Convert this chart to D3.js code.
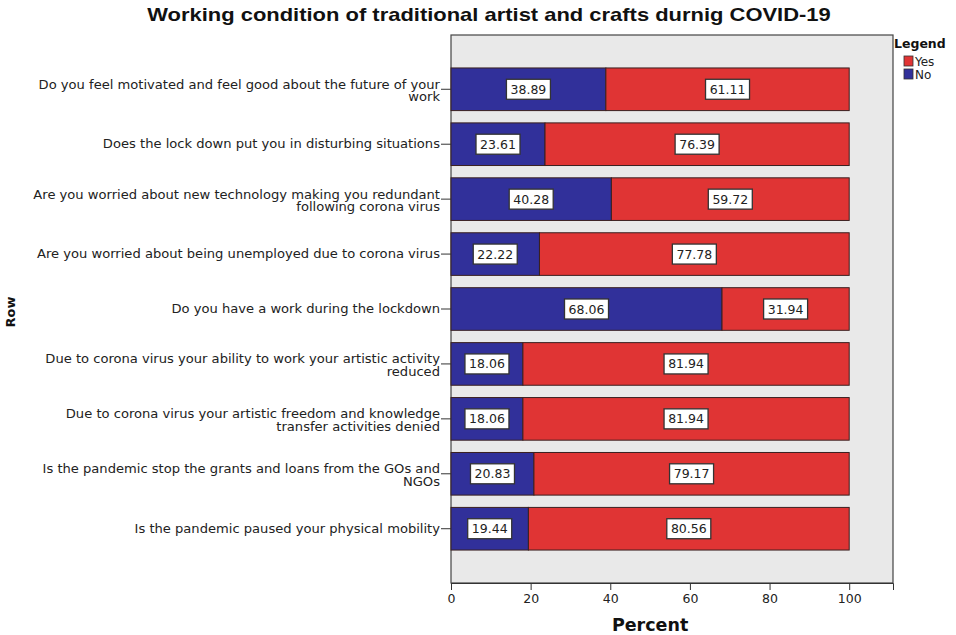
<!DOCTYPE html>
<html>
<head>
<meta charset="utf-8">
<script src="https://cdn.jsdelivr.net/npm/d3@7"></script>
<style>
  html, body { margin: 0; padding: 0; background: #fff; }
  svg { display: block; font-family: "DejaVu Sans", Verdana, sans-serif; }
</style>
</head>
<body>
<svg id="chart" width="956" height="635"></svg>
<script>
// Survey questions, top to bottom (each entry is the list of label lines)
const questions = [
  ["Do you feel motivated and feel good about the future of your", "work"],
  ["Does the lock down put you in disturbing situations"],
  ["Are you worried about new technology making you redundant", "following corona virus"],
  ["Are you worried about being unemployed due to corona virus"],
  ["Do you have a work during the lockdown"],
  ["Due to corona virus your ability to work your artistic activity", "reduced"],
  ["Due to corona virus your artistic freedom and knowledge", "transfer activities denied"],
  ["Is the pandemic stop the grants and loans from the GOs and", "NGOs"],
  ["Is the pandemic paused your physical mobility"]
];
const noValues  = [38.89, 23.61, 40.28, 22.22, 68.06, 18.06, 18.06, 20.83, 19.44];
const yesValues = [61.11, 76.39, 59.72, 77.78, 31.94, 81.94, 81.94, 79.17, 80.56];
const xTicks = [0, 20, 40, 60, 80, 100];
const seriesNames = ["No", "Yes"];
const legendOrder = ["Yes", "No"];

const colors = { No: "#31309a", Yes: "#e03434" };

const svg = d3.select("#chart");
const plot = { left: 451, right: 893, top: 35, bottom: 583 };

const x = d3.scaleLinear().domain([0, 111]).range([plot.left, plot.right]);
const y = d3.scaleBand()
  .domain(d3.range(questions.length))
  .range([plot.top, plot.bottom])
  .paddingInner(0.224)
  .paddingOuter(0.6);

// Title
svg.append("text")
  .attr("transform", "translate(489,21) scale(1.22,1)")
  .attr("text-anchor", "middle")
  .attr("font-family", "'Liberation Sans', Arial, sans-serif")
  .attr("font-size", 18).attr("font-weight", "bold")
  .attr("fill", "#111")
  .text("Working condition of traditional artist and crafts durnig COVID-19");

// Plot background
svg.append("rect")
  .attr("x", plot.left).attr("y", plot.top)
  .attr("width", plot.right - plot.left).attr("height", plot.bottom - plot.top)
  .attr("fill", "#e9e9e9").attr("stroke", "#444").attr("stroke-width", 1.2);

// Stacked rows
const rows = questions.map((q, i) => ({ i, No: noValues[i], Yes: yesValues[i] }));
const stacked = d3.stack().keys(seriesNames)(rows);

const layers = svg.append("g").selectAll("g")
  .data(stacked).join("g")
  .attr("fill", d => colors[d.key]);

layers.selectAll("rect")
  .data(d => d.map(v => ({ key: d.key, v })))
  .join("rect")
  .attr("x", d => x(d.v[0]))
  .attr("y", d => y(d.v.data.i))
  .attr("width", d => x(d.v[1]) - x(d.v[0]))
  .attr("height", y.bandwidth())
  .attr("stroke", "#3a2020").attr("stroke-width", 1);

// Value labels in white boxes
const labels = svg.append("g").selectAll("g")
  .data(stacked.flatMap(s => s.map(v => ({ key: s.key, v }))))
  .join("g")
  .attr("transform", d => `translate(${(x(d.v[0]) + x(d.v[1])) / 2},${y(d.v.data.i) + y.bandwidth() / 2})`);

labels.append("rect")
  .attr("x", -22).attr("y", -10).attr("width", 44).attr("height", 20)
  .attr("fill", "#fff").attr("stroke", "#333").attr("stroke-width", 1.3);

labels.append("text")
  .attr("text-anchor", "middle").attr("dy", "0.36em")
  .attr("font-size", 12.5).attr("fill", "#222")
  .text(d => d.v.data[d.key].toFixed(2));

// Category axis
const yAxis = d3.axisLeft(y).tickSize(10).tickFormat("");
const yg = svg.append("g").attr("transform", `translate(${plot.left},0)`).call(yAxis);
yg.select(".domain").remove();
yg.selectAll(".tick line").attr("stroke", "#333");

// Question labels, right-aligned next to the ticks and slightly widened
const qLabels = svg.append("g").selectAll("text")
  .data(questions).join("text")
  .attr("transform", (d, i) => `translate(440,${y(i) + y.bandwidth() / 2}) scale(1.15,1)`)
  .attr("text-anchor", "end")
  .attr("font-size", 11.4).attr("fill", "#222");

qLabels.selectAll("tspan")
  .data(d => d.map((line, k) => ({ line, k, n: d.length })))
  .join("tspan")
  .attr("x", 0)
  .attr("dy", d => d.k === 0 ? (d.n === 1 ? "0.35em" : "-0.05em") : "1.08em")
  .text(d => d.line);

// Percent axis
const xAxis = d3.axisBottom(x).tickValues(xTicks).tickSize(7).tickPadding(4);
const xg = svg.append("g").attr("transform", `translate(0,${plot.bottom})`).call(xAxis);
xg.select(".domain").attr("stroke", "#333");
xg.selectAll(".tick line").attr("stroke", "#333");
xg.selectAll(".tick text").attr("font-size", 12.5).attr("fill", "#222")
  .attr("font-family", "'DejaVu Sans', sans-serif");

svg.append("text")
  .attr("x", x(50)).attr("y", 631)
  .attr("text-anchor", "middle")
  .attr("font-size", 17.5).attr("font-weight", "bold")
  .attr("fill", "#111")
  .text("Percent");

// Row axis title
svg.append("text")
  .attr("transform", "translate(15,312) rotate(-90)")
  .attr("text-anchor", "middle")
  .attr("font-size", 13).attr("font-weight", "bold")
  .attr("fill", "#111")
  .text("Row");

// Legend
const legend = svg.append("g").attr("transform", "translate(894,0)");
legend.append("text")
  .attr("x", 0).attr("y", 48)
  .attr("font-size", 12.5).attr("font-weight", "bold")
  .attr("font-family", "'DejaVu Sans', sans-serif").attr("fill", "#111")
  .text("Legend");
const items = legend.selectAll("g.item")
  .data(legendOrder).join("g")
  .attr("class", "item")
  .attr("transform", (d, i) => `translate(10,${56 + i * 13})`);
items.append("rect")
  .attr("width", 9).attr("height", 10)
  .attr("fill", d => colors[d]).attr("stroke", "#333").attr("stroke-width", 0.8);
items.append("text")
  .attr("x", 11).attr("y", 9.5)
  .attr("font-size", 12).attr("fill", "#222")
  .text(d => d);
</script>
</body>
</html>
